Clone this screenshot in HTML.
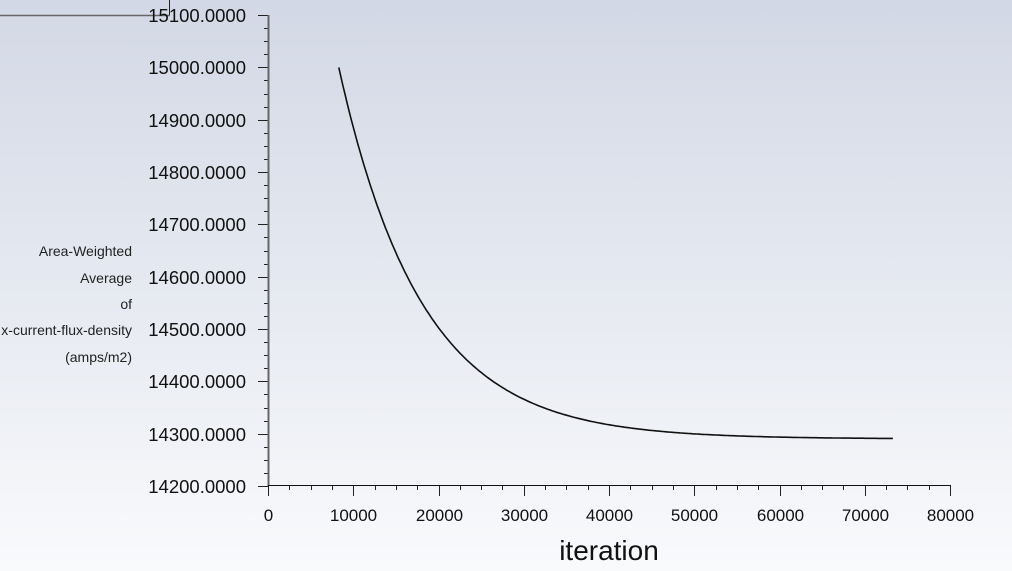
<!DOCTYPE html>
<html><head><style>
html,body{margin:0;padding:0;width:1012px;height:571px;overflow:hidden}
body{background:linear-gradient(#d2d8e5,#f9fafc);font-family:"Liberation Sans",Arial,sans-serif}
svg{display:block}
</style></head><body>
<svg id="s" width="1012" height="571" xmlns="http://www.w3.org/2000/svg" font-family="Liberation Sans, Arial, sans-serif">
<line x1="0" y1="15.5" x2="170" y2="15.5" stroke="#666" stroke-width="1.5"/>
<line x1="169.5" y1="0" x2="169.5" y2="15" stroke="#222" stroke-width="1"/>
<g id="ax" stroke="#222" stroke-width="1"></g>
<line x1="268.5" y1="15" x2="268.5" y2="486" stroke="#666" stroke-width="2"/>
<line x1="268" y1="485.5" x2="951" y2="485.5" stroke="#111" stroke-width="1"/>
<g id="lab" fill="#111"></g>
<g font-size="14" fill="#222" text-anchor="end">
<text x="132" y="256">Area-Weighted</text>
<text x="132" y="283">Average</text>
<text x="132" y="309">of</text>
<text x="132" y="335">x-current-flux-density</text>
<text x="132" y="362">(amps/m2)</text>
</g>
<text x="609" y="560" font-size="28" fill="#111" text-anchor="middle">iteration</text>
<path id="c" fill="none" stroke="#111" stroke-width="1.6"/>
</svg>
<script>
var ns="http://www.w3.org/2000/svg",ax=document.getElementById('ax'),lab=document.getElementById('lab');
function L(x1,y1,x2,y2){var l=document.createElementNS(ns,'line');l.setAttribute('x1',x1);l.setAttribute('y1',y1);l.setAttribute('x2',x2);l.setAttribute('y2',y2);ax.appendChild(l);}
function T(x,y,t,a,fs){var e=document.createElementNS(ns,'text');e.setAttribute('x',x);e.setAttribute('y',y);e.setAttribute('text-anchor',a);e.setAttribute('font-size',fs);e.textContent=t;lab.appendChild(e);}
function Y(v){return 486-(v-14200)*0.5233;}
function X(v){return 268+v*0.008525;}
for(var i=0;i<=36;i++){var y=Math.round(Y(14200+i*25))+0.5;if(i%4==0){L(258,y,268,y);T(246,y+6.5,(14200+i*25)+".0000","end",18.5);}else L(264,y,268,y);}
for(var i=0;i<=32;i++){var x=Math.round(X(i*2500))+0.5;if(i%4==0){L(x,486,x,496);T(x,521,String(i*2500),"middle",17);}else L(x,486,x,490);}
var d="";for(var v=8300;v<=73500;v+=250){var y=14290+710*Math.exp(-(v-8300)/9700);d+=(v==8300?"M":"L")+X(v).toFixed(1)+" "+Y(y).toFixed(1);}
document.getElementById('c').setAttribute('d',d);
</script>
</body></html>
